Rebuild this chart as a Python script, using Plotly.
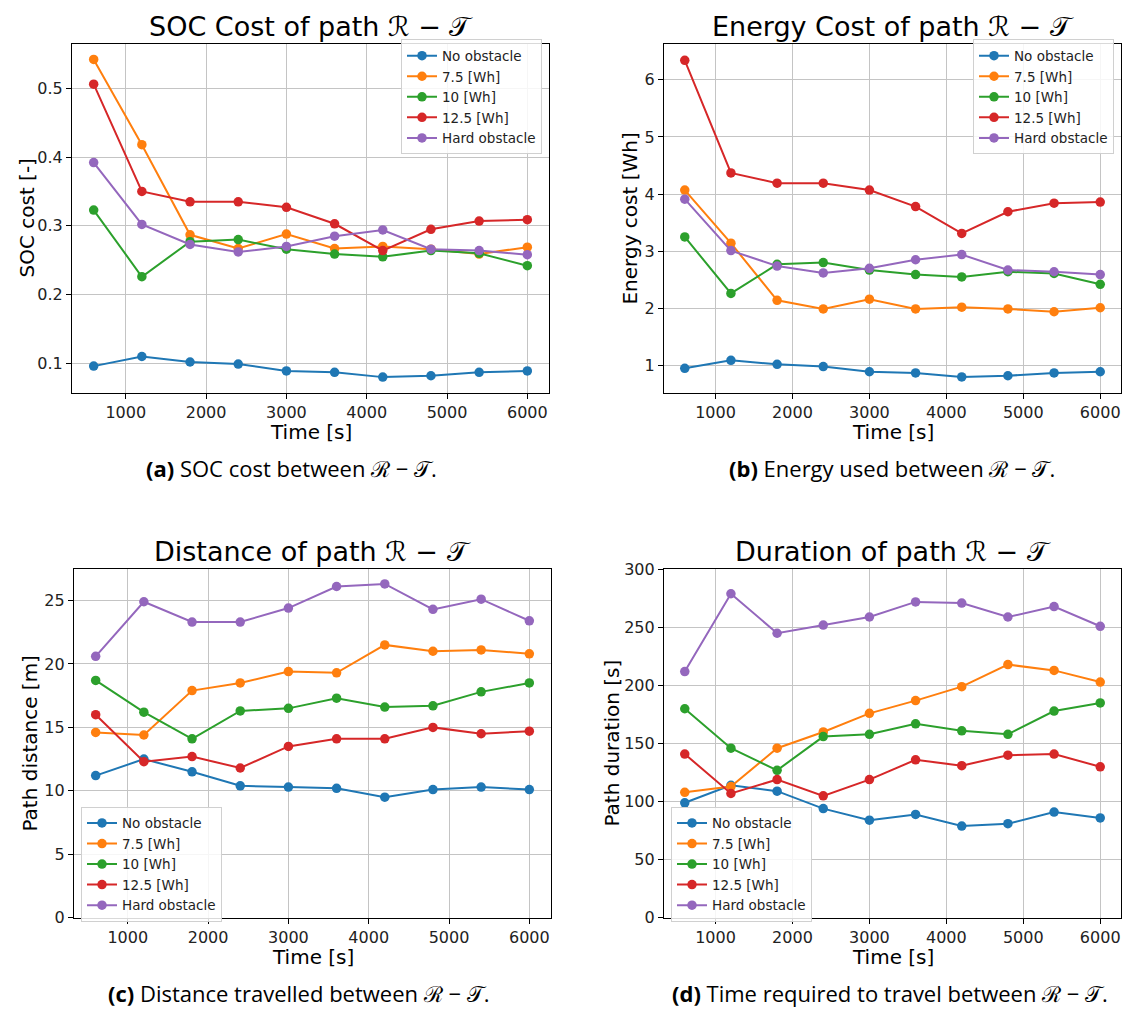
import plotly.graph_objects as go

W, H = 1147, 1021

time_s = [600, 1200, 1800, 2400, 3000, 3600, 4200, 4800, 5400, 6000]
series_names = ["No obstacle", "7.5 [Wh]", "10 [Wh]", "12.5 [Wh]", "Hard obstacle"]
colors = ["#1f77b4", "#ff7f0e", "#2ca02c", "#d62728", "#9467bd"]

soc_no_obstacle = [0.096, 0.110, 0.102, 0.099, 0.089, 0.087, 0.080, 0.082, 0.087, 0.089]
soc_7_5 = [0.542, 0.418, 0.287, 0.267, 0.288, 0.267, 0.270, 0.266, 0.259, 0.269]
soc_10 = [0.323, 0.226, 0.277, 0.280, 0.266, 0.259, 0.255, 0.264, 0.260, 0.242]
soc_12_5 = [0.506, 0.350, 0.335, 0.335, 0.327, 0.303, 0.264, 0.295, 0.307, 0.309]
soc_hard = [0.392, 0.302, 0.273, 0.262, 0.270, 0.285, 0.294, 0.266, 0.264, 0.258]

energy_no_obstacle = [0.95, 1.09, 1.02, 0.98, 0.89, 0.87, 0.80, 0.82, 0.87, 0.89]
energy_7_5 = [4.07, 3.14, 2.14, 1.99, 2.16, 1.99, 2.02, 1.99, 1.94, 2.01]
energy_10 = [3.25, 2.26, 2.77, 2.80, 2.67, 2.59, 2.55, 2.64, 2.61, 2.42]
energy_12_5 = [6.34, 4.37, 4.19, 4.19, 4.07, 3.78, 3.31, 3.69, 3.84, 3.86]
energy_hard = [3.91, 3.01, 2.74, 2.62, 2.70, 2.85, 2.94, 2.67, 2.64, 2.59]

dist_no_obstacle = [11.2, 12.5, 11.5, 10.4, 10.3, 10.2, 9.5, 10.1, 10.3, 10.1]
dist_7_5 = [14.6, 14.4, 17.9, 18.5, 19.4, 19.3, 21.5, 21.0, 21.1, 20.8]
dist_10 = [18.7, 16.2, 14.1, 16.3, 16.5, 17.3, 16.6, 16.7, 17.8, 18.5]
dist_12_5 = [16.0, 12.3, 12.7, 11.8, 13.5, 14.1, 14.1, 15.0, 14.5, 14.7]
dist_hard = [20.6, 24.9, 23.3, 23.3, 24.4, 26.1, 26.3, 24.3, 25.1, 23.4]

dur_no_obstacle = [99, 114, 109, 94, 84, 89, 79, 81, 91, 86]
dur_7_5 = [108, 113, 146, 160, 176, 187, 199, 218, 213, 203]
dur_10 = [180, 146, 127, 156, 158, 167, 161, 158, 178, 185]
dur_12_5 = [141, 107, 119, 105, 119, 136, 131, 140, 141, 130]
dur_hard = [212, 279, 245, 252, 259, 272, 271, 259, 268, 251]

panels = [
    dict(data=[soc_no_obstacle, soc_7_5, soc_10, soc_12_5, soc_hard],
         title="SOC Cost of path ℛ − 𝒯", ylabel="SOC cost [-]",
         caption="<b>(a)</b> SOC cost between ℛ − 𝒯.",
         yticks=[0.1, 0.2, 0.3, 0.4, 0.5], yrange=[0.0573, 0.564],
         box=(72, 36, 549, 391), ylab_x=27, cap_x=291, legend_pos="top"),
    dict(data=[energy_no_obstacle, energy_7_5, energy_10, energy_12_5, energy_hard],
         title="Energy Cost of path ℛ − 𝒯", ylabel="Energy cost [Wh]",
         caption="<b>(b)</b> Energy used between ℛ − 𝒯.",
         yticks=[1, 2, 3, 4, 5, 6], yrange=[0.523, 6.62],
         box=(664, 36, 1121, 391), ylab_x=630, cap_x=892, legend_pos="top"),
    dict(data=[dist_no_obstacle, dist_7_5, dist_10, dist_12_5, dist_hard],
         title="Distance of path ℛ − 𝒯", ylabel="Path distance [m]",
         caption="<b>(c)</b> Distance travelled between ℛ − 𝒯.",
         yticks=[0, 5, 10, 15, 20, 25], yrange=[0, 27.45],
         box=(74, 571, 551, 926), ylab_x=30, cap_x=299, legend_pos="bottom"),
    dict(data=[dur_no_obstacle, dur_7_5, dur_10, dur_12_5, dur_hard],
         title="Duration of path ℛ − 𝒯", ylabel="Path duration [s]",
         caption="<b>(d)</b> Time required to travel between ℛ − 𝒯.",
         yticks=[0, 50, 100, 150, 200, 250, 300], yrange=[0, 300],
         box=(664, 571, 1121, 926), ylab_x=612, cap_x=890, legend_pos="bottom"),
]

xticks = [1000, 2000, 3000, 4000, 5000, 6000]
XRANGE = [330, 6270]

def px(x):
    return x / W

def py(y):
    return 1 - y / H

FONT = "DejaVu Sans"
fig = go.Figure()
annotations = []
layout = dict(width=W, height=H, margin=dict(l=0, r=0, t=0, b=0),
              paper_bgcolor="white", plot_bgcolor="white", showlegend=True,
              font=dict(family=FONT, color="#222222"))

for i, p in enumerate(panels):
    n = i + 1
    xa = "xaxis" if n == 1 else f"xaxis{n}"
    ya = "yaxis" if n == 1 else f"yaxis{n}"
    xr = "x" if n == 1 else f"x{n}"
    yr = "y" if n == 1 else f"y{n}"
    lg = "legend" if n == 1 else f"legend{n}"
    x0, y0, x1, y1 = p["box"]
    axis_common = dict(showline=True, linecolor="black", linewidth=1.2, mirror=True,
                       ticks="outside", ticklen=5, tickcolor="black", tickwidth=1.2,
                       showgrid=True, gridcolor="#c4c4c4", gridwidth=1, zeroline=False,
                       tickfont=dict(family=FONT, size=16, color="#222222"))
    layout[xa] = dict(domain=[px(x0), px(x1)], range=XRANGE, tickvals=xticks,
                      anchor=yr, **axis_common)
    layout[ya] = dict(domain=[py(y1), py(y0)], range=p["yrange"], tickvals=p["yticks"],
                      anchor=xr, **axis_common)
    for k in range(5):
        fig.add_trace(go.Scatter(x=time_s, y=p["data"][k], name=series_names[k],
                                 mode="lines+markers", xaxis=xr, yaxis=yr, legend=lg,
                                 line=dict(color=colors[k], width=2),
                                 marker=dict(color=colors[k], size=9.5)))
    if p["legend_pos"] == "top":
        leg = dict(x=px(x1 - 7), y=py(y0 - 5), xanchor="right", yanchor="top")
    else:
        leg = dict(x=px(x0 + 7), y=py(y1 + 4), xanchor="left", yanchor="bottom")
    layout[lg] = dict(bgcolor="rgba(255,255,255,0.85)", bordercolor="#d0d0d0", borderwidth=1,
                      font=dict(family=FONT, size=13.5, color="#222222"),
                      tracegroupgap=0, itemwidth=30, **leg)
    cx = (x0 + x1) / 2
    annotations.append(dict(text=p["title"], x=px(cx), y=py(y0 - 18), xref="paper", yref="paper",
                            showarrow=False, xanchor="center", yanchor="middle",
                            font=dict(family=FONT, size=27, color="black")))
    annotations.append(dict(text="Time [s]", x=px(cx), y=py(y1 + 40), xref="paper", yref="paper",
                            showarrow=False, xanchor="center", yanchor="middle",
                            font=dict(family=FONT, size=20, color="black")))
    annotations.append(dict(text=p["ylabel"], x=px(p["ylab_x"]), y=py((y0 + y1) / 2),
                            xref="paper", yref="paper", showarrow=False, textangle=-90,
                            xanchor="center", yanchor="middle",
                            font=dict(family=FONT, size=20, color="black")))
    annotations.append(dict(text=p["caption"], x=px(p["cap_x"]), y=py(y1 + 77),
                            xref="paper", yref="paper", showarrow=False,
                            xanchor="center", yanchor="middle",
                            font=dict(family="Open Sans", size=22, color="black")))

layout["annotations"] = annotations
fig.update_layout(**layout)
fig.write_html("out.html")
